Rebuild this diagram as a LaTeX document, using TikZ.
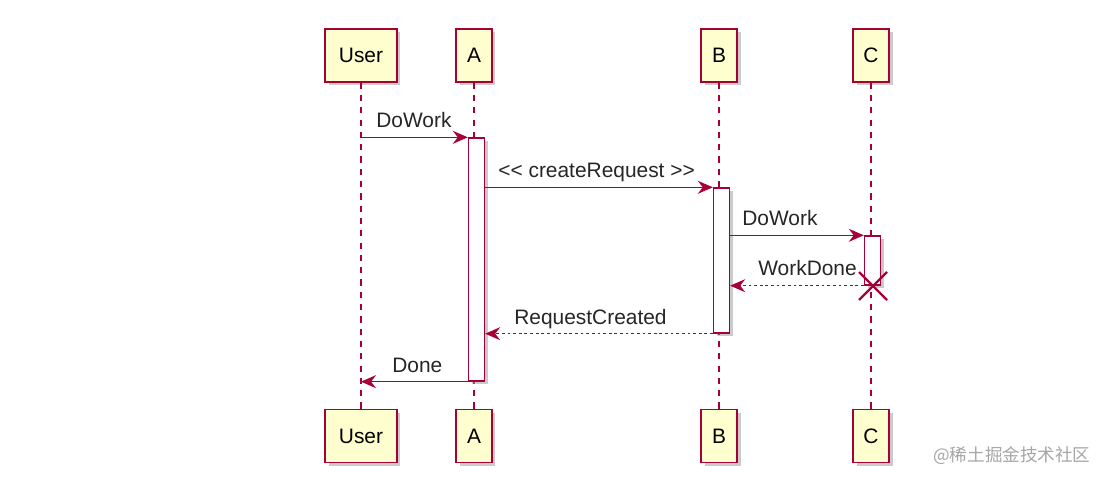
\documentclass[tikz,border=0pt]{standalone}
\usepackage{fontspec}
\setmainfont{Liberation Sans}
\newfontfamily\cjkwm{Noto Sans CJK SC}
\usetikzlibrary{shapes,arrows.meta,shadows}
\definecolor{umlred}{HTML}{A80036}
\definecolor{umlfill}{HTML}{FEFECE}
\tikzset{
  actor/.style={draw=umlred, fill=umlfill, line width=0.8pt, minimum height=1.06cm, minimum width=0.72cm, inner sep=0pt,
    font=\fontsize{11.9}{14}\selectfont, drop shadow={shadow xshift=0.07cm, shadow yshift=-0.07cm, fill=black!40, opacity=0.5}},
  bar/.style={draw=umlred, fill=white, line width=0.8pt, minimum width=0.32cm, inner sep=0pt,
    drop shadow={shadow xshift=0.06cm, shadow yshift=-0.06cm, fill=black!40, opacity=0.5}},
  lifeline/.style={draw=umlred, line width=0.65pt, dash pattern=on 3.5pt off 3.5pt},
  msg/.style={draw=umlred, line width=0.85pt, -{Stealth[length=0.3cm, width=0.26cm, inset=0.1cm]}},
  reply/.style={msg, dash pattern=on 1.6pt off 1.6pt},
  lbl/.style={anchor=base west, inner sep=0pt, text=black!85, font=\fontsize{11.9}{14}\selectfont}
}
\begin{document}
\begin{tikzpicture}[x=0.02cm, y=-0.02cm]
     \useasboundingbox [fill=white] (0,0) rectangle (1110,482);
     \node [actor, minimum width=1.44cm] (user) at (361,55.5) {User};
     \node [actor] (a) at (474,55.5) {A};
     \node [actor] (b) at (719,55.5) {B};
     \node [actor] (c) at (871,55.5) {C};
     \node [actor, minimum width=1.44cm] (user2) at (361,436) {User};
     \node [actor] (a2) at (474,436) {A};
     \node [actor] (b2) at (719,436) {B};
     \node [actor] (c2) at (871,436) {C};
     \draw [lifeline] (user) -- (user2);
     \draw [lifeline] (a) -- (a2);
     \draw [lifeline] (b) -- (b2);
     \draw [lifeline] (c) -- (c2);
     \node [bar, minimum height=4.86cm] (actA) at (476.5,259.5) {};
     \node [bar, minimum height=2.9cm] (actB) at (721.5,260.5) {};
     \node [bar, minimum height=0.98cm] (actC) at (872.5,260.5) {};
     \draw [msg] (user |- actA.north west) -- (actA.north west);
     \node [lbl] (l1) at (376,128) {DoWork};
     \draw [msg] (actA.east |- actB.north) -- (actB.north west);
     \node [lbl] (l2) at (498,178) {<\kern0pt< createRequest >\kern0pt>};
     \draw [msg] (actB.east |- actC.north) -- (actC.north west);
     \node [lbl] (l3) at (742,226) {DoWork};
     \draw [reply] (actC.south west) -- (actB.east |- actC.south);
     \node [lbl] (l4) at (758,276) {WorkDone};
     \coordinate (x1) at (859,272);
     \coordinate (x2) at (887,300);
     \coordinate (x3) at (887,272);
     \coordinate (x4) at (859,300);
     \draw [umlred, line width=1.3pt] (x1) -- (x2) (x3) -- (x4);
     \draw [reply] (actB.south west) -- (actA.east |- actB.south);
     \node [lbl] (l5) at (514,325) {RequestCreated};
     \draw [msg] (actA.south west) -- (user |- actA.south);
     \node [lbl] (l6) at (392,373) {Done};
     \node [anchor=base west, inner sep=0pt, text=black!35, font=\cjkwm\fontsize{10}{12}\selectfont] (wm) at (933,462) {@稀土掘金技术社区};
 \end{tikzpicture}
\end{document}
